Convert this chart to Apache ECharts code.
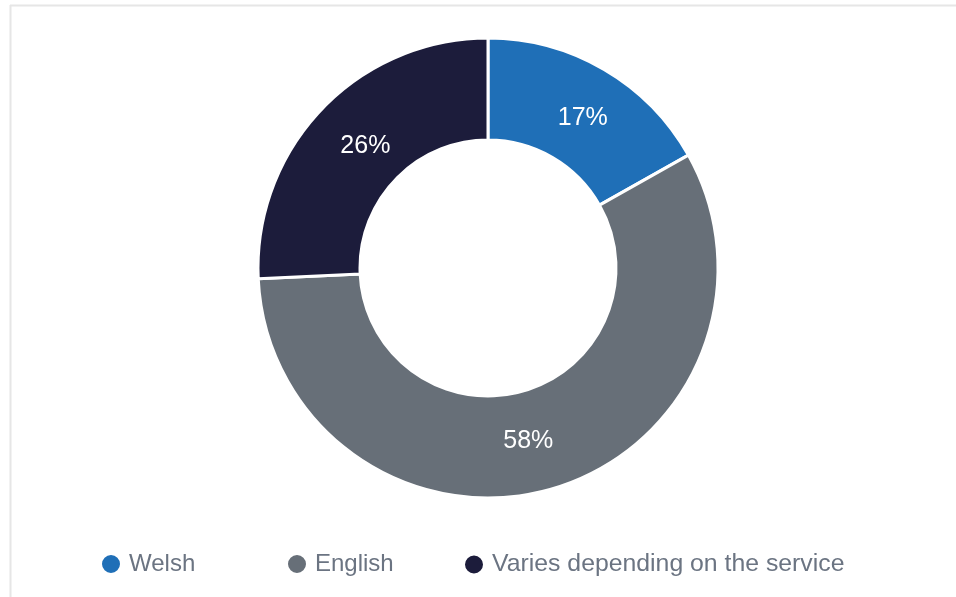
<!DOCTYPE html>
<html>
<head>
<meta charset="utf-8">
<script src="https://cdn.jsdelivr.net/npm/echarts@6/dist/echarts.min.js"></script>
<style>
  html, body { margin: 0; padding: 0; background: #ffffff; }
  #chart { width: 956px; height: 597px; }
</style>
</head>
<body>
<div id="chart"></div>
<script>
// Language in which services are offered (share of responses, %)
const categories = ['Welsh', 'English', 'Varies depending on the service'];
const shares = [17, 58, 26];
const colors = ['#1f6fb7', '#676f78', '#1c1c3b'];

const legendLeft = [95, 281, 458];
const legendFontSize = [24, 24, 24.8];
const labelOffsets = [[3, 7], [-10, -2], [9, 4]];
const fontFamily = '"Liberation Sans", Arial, Helvetica, sans-serif';

const chart = echarts.init(document.getElementById('chart'), null, { renderer: 'canvas' });

const legends = categories.map((name, i) => ({
  data: [name],
  left: legendLeft[i],
  top: 547,
  orient: 'horizontal',
  icon: 'circle',
  itemWidth: 20,
  itemHeight: 20,
  selectedMode: false,
  textStyle: { color: '#6b7482', fontSize: legendFontSize[i], fontFamily: fontFamily, padding: [0, 0, 0, 3] }
}));

chart.setOption({
  animation: false,
  backgroundColor: '#ffffff',
  color: colors,
  legend: legends,
  graphic: [
    { type: 'line', shape: { x1: 10, y1: 5.5, x2: 956, y2: 5.5 }, style: { stroke: '#e6e6e6', lineWidth: 2 } },
    { type: 'line', shape: { x1: 10.5, y1: 5, x2: 10.5, y2: 597 }, style: { stroke: '#e6e6e6', lineWidth: 2 } }
  ],
  series: [{
    type: 'pie',
    center: [488, 268],
    radius: [128, 230],
    startAngle: 90,
    clockwise: true,
    avoidLabelOverlap: false,
    itemStyle: { borderColor: '#ffffff', borderWidth: 3 },
    label: {
      show: true,
      position: 'inside',
      formatter: p => p.value + '%',
      color: '#ffffff',
      fontSize: 25,
      fontFamily: fontFamily
    },
    labelLine: { show: false },
    emphasis: { disabled: true },
    data: categories.map((name, i) => ({
      name: name,
      value: shares[i],
      label: { offset: labelOffsets[i] }
    }))
  }]
});
</script>
</body>
</html>
